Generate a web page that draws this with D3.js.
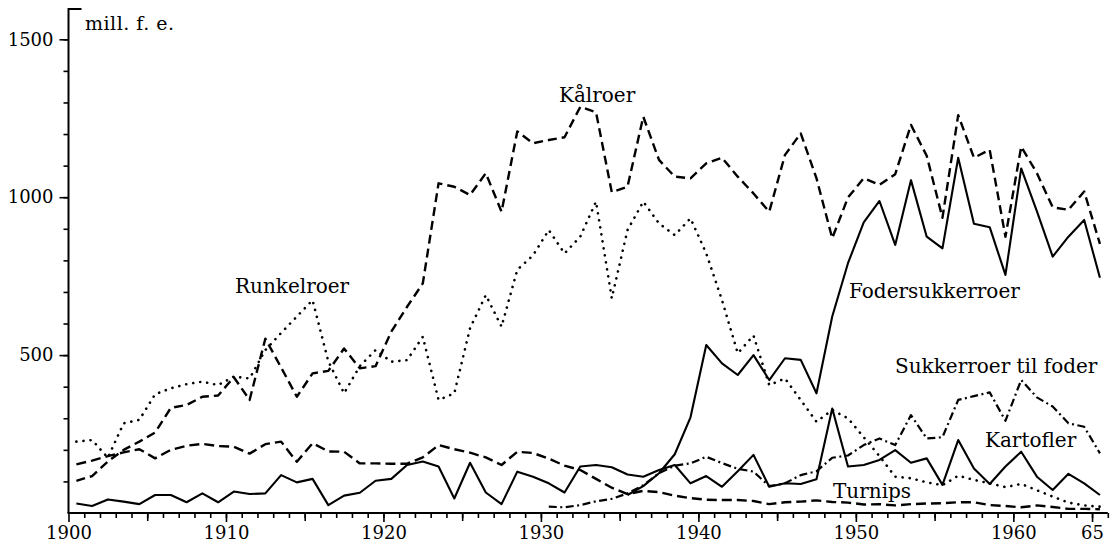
<!DOCTYPE html>
<html>
<head>
<meta charset="utf-8">
<script src="https://cdn.jsdelivr.net/npm/d3@7"></script>
<style>
  body { margin: 0; background: #fff; }
  svg { display: block; }
  text { font-family: "DejaVu Serif", serif; fill: #000; }
</style>
</head>
<body>
<svg id="chart" width="1119" height="547"></svg>
<script>
// values in mill. f. e., one per season 1900/01 ... 1965/66
const firstYear = 1900;

const kaalroer = [
  102, 117, 163, 200, 226, 255, 333, 342, 368, 372,
  430, 358, 552, 461, 368, 442, 450, 521, 458, 465,
  574, 653, 727, 1044, 1033, 1007, 1076, 954, 1208, 1171,
  1181, 1190, 1286, 1269, 1016, 1033, 1255, 1118, 1065, 1060,
  1107, 1125, 1065, 1012, 954, 1134, 1202, 1060, 870, 999,
  1060, 1039, 1073, 1229, 1131, 935, 1260, 1125, 1150, 875,
  1160, 1076, 968, 960, 1018, 852
];

const runkelroer = [
  226, 231, 175, 284, 295, 376, 395, 408, 416, 405,
  432, 426, 516, 570, 622, 674, 480, 379, 465, 516,
  479, 484, 558, 358, 379, 585, 690, 590, 770, 816,
  896, 822, 875, 986, 680, 896, 986, 917, 880, 933,
  822, 674, 506, 562, 405, 426, 358, 289, 326, 300,
  240, 180, 115, 110, 97, 88, 118, 105, 94, 82,
  92, 72, 52, 33, 24, 20
];

const turnips = [
  154, 166, 180, 192, 202, 173, 200, 213, 219, 212,
  210, 188, 218, 226, 162, 221, 195, 194, 157, 157,
  156, 156, 176, 215, 202, 191, 176, 152, 194, 190,
  172, 150, 136, 108, 80, 60, 70, 66, 55, 47,
  42, 41, 41, 38, 28, 34, 36, 40, 35, 33,
  27, 28, 24, 28, 30, 31, 34, 34, 25, 22,
  18, 24, 19, 13, 13, 12
];

const kartofler = [
  30, 22, 43, 36, 28, 57, 57, 34, 62, 34,
  68, 60, 62, 120, 97, 108, 25, 55, 64, 102,
  108, 152, 163, 147, 46, 159, 65, 28, 131, 115,
  94, 65, 147, 152, 145, 122, 115, 136, 152, 94,
  117, 83, 132, 184, 83, 94, 92, 107, 331, 147,
  152, 168, 199, 159, 173, 89, 231, 141, 92, 147,
  194, 115, 73, 124, 94, 57
];

const fodersukkerroerStart = 1935;
const fodersukkerroer = [
  57, 85, 126, 186, 303, 532, 474, 437, 500, 421,
  490, 485, 379, 622, 791, 920, 988, 849, 1054, 875,
  838, 1125, 916, 905, 754, 1091, 955, 812, 875, 928,
  745
];

const sukkerroerStart = 1930;
const sukkerroerTilFoder = [
  20, 18, 25, 37, 45, 62, 88, 126, 150, 157,
  178, 158, 140, 131, 85, 94, 120, 132, 175, 182,
  215, 236, 215, 310, 236, 240, 358, 370, 382, 292,
  421, 366, 337, 284, 273, 189
];

const yMajorTicks = [500, 1000, 1500];
const xMajorTicks = [1900, 1910, 1920, 1930, 1940, 1950, 1960, 1965];
const xTickLabel = d => d === 1965 ? "65" : String(d);

const svg = d3.select("#chart");
svg.append("rect").attr("width", 1119).attr("height", 547).attr("fill", "#fff");

const x = d3.scaleLinear().domain([1900, 1966]).range([68.5, 1107.8]);
const y = d3.scaleLinear().domain([0, 1500]).range([513, 39.3]);

// axes
const yTop = 1596;
svg.append("path")
  .attr("d", `M${x(1900)},${y(0)}V${y(yTop)}H${x(1900) + 13}`)
  .attr("fill", "none").attr("stroke", "#000").attr("stroke-width", 2);
svg.append("line")
  .attr("x1", x(1900) - 1).attr("x2", x(1966))
  .attr("y1", y(0)).attr("y2", y(0))
  .attr("stroke", "#000").attr("stroke-width", 2.2);

const yMinor = svg.append("g")
  .attr("transform", `translate(${x(1900)},0)`)
  .call(d3.axisLeft(y).tickValues(d3.range(100, 1600, 100)).tickSize(5).tickFormat(""));
const yMajor = svg.append("g")
  .attr("transform", `translate(${x(1900)},0)`)
  .call(d3.axisLeft(y).tickValues(yMajorTicks).tickSize(9).tickPadding(6).tickFormat(d3.format("d")));

const xMinor = svg.append("g")
  .attr("transform", `translate(0,${y(0)})`)
  .call(d3.axisBottom(x).tickValues(d3.range(1901, 1967)).tickSize(5).tickFormat(""));
const xMid = svg.append("g")
  .attr("transform", `translate(0,${y(0)})`)
  .call(d3.axisBottom(x).tickValues([1905, 1915, 1925, 1935, 1945, 1955]).tickSize(8).tickFormat(""));
const xMajor = svg.append("g")
  .attr("transform", `translate(0,${y(0)})`)
  .call(d3.axisBottom(x).tickValues(xMajorTicks).tickSize(9).tickPadding(4).tickFormat(xTickLabel));

[yMinor, yMajor, xMinor, xMid, xMajor].forEach(g => {
  g.attr("font-family", null).attr("font-size", null);
  g.select(".domain").remove();
  g.selectAll("line").attr("stroke", "#000").attr("stroke-width", 1.6);
  g.selectAll("text")
    .style("font-family", "'DejaVu Serif', serif")
    .style("font-size", "18px");
});

// series
function drawSeries(values, start, style) {
  const line = d3.line()
    .x((d, i) => x(start + i + 0.5))
    .y(d => y(d));
  svg.append("path")
    .datum(values)
    .attr("d", line)
    .attr("fill", "none")
    .attr("stroke", "#000")
    .attr("stroke-width", style.width)
    .attr("stroke-dasharray", style.dash)
    .attr("stroke-linecap", style.cap || "butt")
    .attr("stroke-linejoin", "round");
}

drawSeries(turnips, firstYear, {width: 2.4, dash: "10,5"});
drawSeries(kartofler, firstYear, {width: 2.1, dash: null});
drawSeries(sukkerroerTilFoder, sukkerroerStart, {width: 2.2, dash: "8,3.5,2,3.5"});
drawSeries(fodersukkerroer, fodersukkerroerStart, {width: 2.1, dash: null});
drawSeries(runkelroer, firstYear, {width: 2.6, dash: "0.1,7", cap: "round"});
drawSeries(kaalroer, firstYear, {width: 2.4, dash: "9,5"});

// labels
const labels = [
  {text: "mill. f. e.", x: 85, y: 30, size: 19, spacing: 0.5},
  {text: "Kålroer", x: 559, y: 102, size: 20},
  {text: "Runkelroer", x: 235, y: 293, size: 20},
  {text: "Fodersukkerroer", x: 849, y: 298, size: 20},
  {text: "Sukkerroer til foder", x: 895, y: 373, size: 20},
  {text: "Kartofler", x: 985, y: 447, size: 20},
  {text: "Turnips", x: 833, y: 498, size: 20}
];
svg.selectAll("text.series-label")
  .data(labels)
  .enter()
  .append("text")
    .attr("class", "series-label")
    .attr("x", d => d.x)
    .attr("y", d => d.y)
    .attr("font-size", d => d.size)
    .attr("letter-spacing", d => d.spacing || 0)
    .text(d => d.text);
</script>
</body>
</html>
